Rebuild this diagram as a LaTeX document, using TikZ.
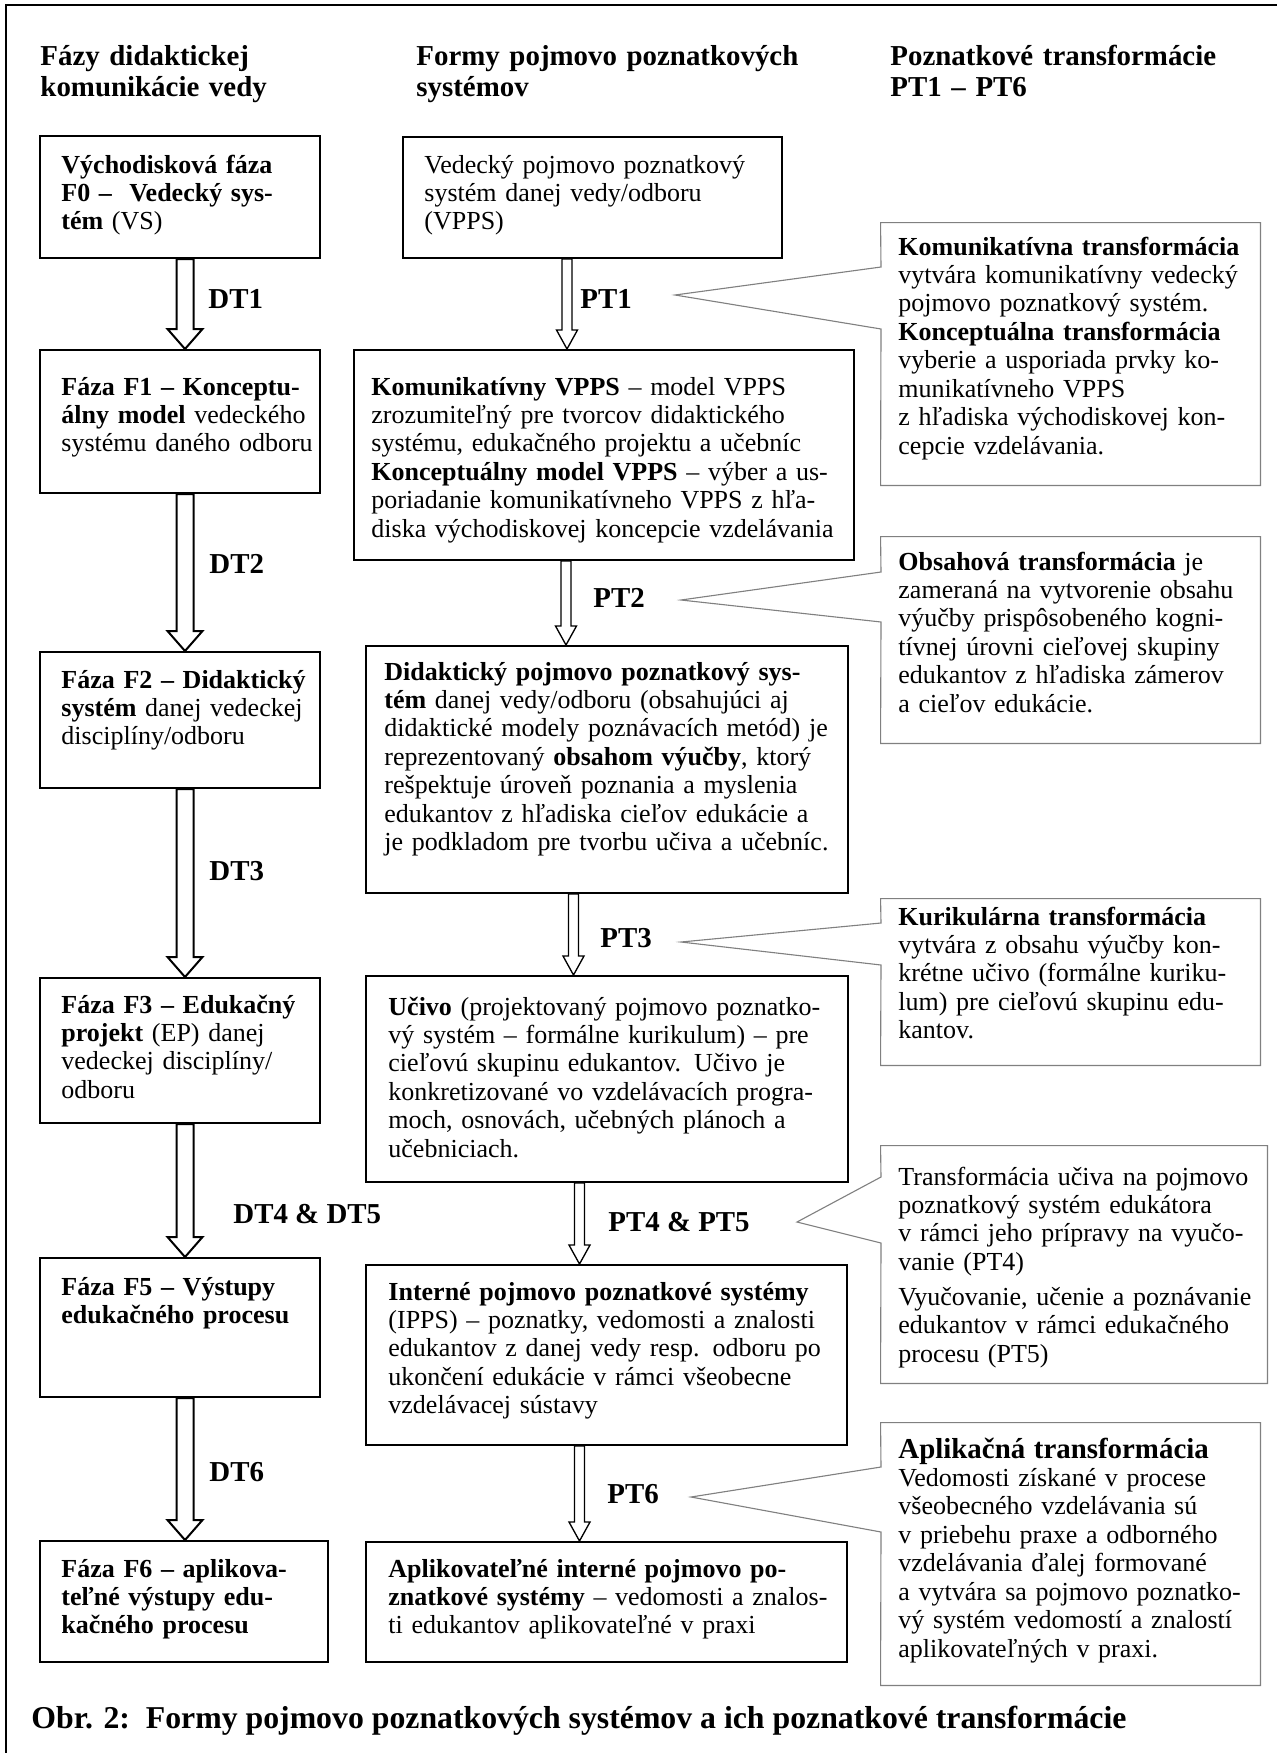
\documentclass[tikz,border=0pt]{standalone}
\usepackage{fontspec}
\setmainfont{Liberation Serif}
\usetikzlibrary{calc,fit}

\definecolor{calloutgray}{gray}{0.5}

% hollow block arrow: style, x, from node, to node, half shaft, half head, head length
\newcommand\blockarrow[7]{%
  \coordinate (bt) at (#2,0);
  \coordinate (bs) at (bt |- #3.south);
  \coordinate (be) at (bt |- #4.north);
  \draw[#1] ($(bs)+(-#5,0)$) -- ($(be)+(-#5,-#7)$) -- ($(be)+(-#6,-#7)$) -- (be)
    -- ($(be)+(#6,-#7)$) -- ($(be)+(#5,-#7)$) -- ($(bs)+(#5,0)$) -- cycle;
}

\tikzset{
  framebox/.style={draw, line width=0.9pt, inner sep=0pt},
  hidden/.style={inner sep=0pt},
  txt/.style={anchor=base west, inner sep=0pt, text width=300pt, align=left,
    font=\fontsize{11.7}{12.8}\selectfont},
  colhead/.style={anchor=base west, inner sep=0pt, text width=300pt, align=left,
    font=\bfseries\fontsize{13}{14}\selectfont},
  lbl/.style={anchor=base west, inner sep=0pt, font=\bfseries\fontsize{13}{14}\selectfont},
  callout/.style={draw=calloutgray, line width=0.5pt, fill=white},
  darrow/.style={draw, line width=0.9pt, fill=white},
  parrow/.style={draw, line width=0.6pt, fill=white},
}

\begin{document}
\begin{tikzpicture}[x=0.45pt, y=-0.45pt]
\useasboundingbox (0,0) rectangle (1277,1753);

% outer frame
\draw[line width=0.9pt] (5.5,1800) -- (5.5,4.5) -- (1300,4.5);

% column headings
\node[colhead] (h1) at (40,65) {Fázy didaktickej\\komunikácie vedy};
\node[colhead] (h2) at (416,65) {Formy pojmovo poznatkových\\systémov};
\node[colhead] (h3) at (890,65) {Poznatkové transformácie\\PT1 – PT6};

% phases of didactic communication
\node[framebox, fit={(40,136) (320,258)}] (f0) {};
\node[framebox, fit={(40,350) (320,493)}] (f1) {};
\node[framebox, fit={(40,652) (320,788)}] (f2) {};
\node[framebox, fit={(40,978) (320,1123)}] (f3) {};
\node[framebox, fit={(40,1258) (320,1397)}] (f5) {};
\node[framebox, fit={(40,1541) (328,1662)}] (f6) {};

\node[txt] (f0t) at (61,173) {\textbf{Východisková fáza}\\\textbf{F0 –\ \ Vedecký sys-}\\\textbf{tém} (VS)};
\node[txt] (f1t) at (61,395) {\textbf{Fáza F1 – Konceptu-}\\\textbf{álny model} vedeckého\\systému daného odboru};
\node[txt] (f2t) at (61,688) {\textbf{Fáza F2 – Didaktický}\\\textbf{systém} danej vedeckej\\disciplíny/odboru};
\node[txt] (f3t) at (61,1013) {\textbf{Fáza F3 – Edukačný}\\\textbf{projekt} (EP) danej\\vedeckej disciplíny/\\odboru};
\node[txt] (f5t) at (61,1295) {\textbf{Fáza F5 – Výstupy}\\\textbf{edukačného procesu}};
\node[txt] (f6t) at (61,1577) {\textbf{Fáza F6 – aplikova-}\\\textbf{teľné výstupy edu-}\\\textbf{kačného procesu}};

% forms of concept-knowledge systems
\node[framebox, fit={(403,137) (782,258)}] (m0) {};
\node[framebox, fit={(354,350) (854,560)}] (m1) {};
\node[framebox, fit={(366,646) (848,893)}] (m2) {};
\node[framebox, fit={(366,976) (848,1182)}] (m3) {};
\node[framebox, fit={(366,1265) (847,1445)}] (m4) {};
\node[framebox, fit={(366,1542) (847,1662)}] (m6) {};

\node[txt] (m0t) at (424,173) {Vedecký pojmovo poznatkový\\systém danej vedy/odboru\\(VPPS)};
\node[txt] (m1t) at (371,395) {\textbf{Komunikatívny VPPS} – model VPPS\\zrozumiteľný pre tvorcov didaktického\\systému, edukačného projektu a učebníc\\\textbf{Konceptuálny model VPPS} – výber a us-\\poriadanie komunikatívneho VPPS z hľa-\\diska východiskovej koncepcie vzdelávania};
\node[txt] (m2t) at (384,680) {\textbf{Didaktický pojmovo poznatkový sys-}\\\textbf{tém} danej vedy/odboru (obsahujúci aj\\didaktické modely poznávacích metód) je\\reprezentovaný \textbf{obsahom výučby}, ktorý\\rešpektuje úroveň poznania a myslenia\\edukantov z hľadiska cieľov edukácie a\\je podkladom pre tvorbu učiva a učebníc.};
\node[txt] (m3t) at (388,1015) {\textbf{Učivo} (projektovaný pojmovo poznatko-\\vý systém – formálne kurikulum) – pre\\cieľovú skupinu edukantov. Učivo je\\konkretizované vo vzdelávacích progra-\\moch, osnovách, učebných plánoch a\\učebniciach.};
\node[txt] (m4t) at (388,1300) {\textbf{Interné pojmovo poznatkové systémy}\\(IPPS) – poznatky, vedomosti a znalosti\\edukantov z danej vedy resp. odboru po\\ukončení edukácie v rámci všeobecne\\vzdelávacej sústavy};
\node[txt] (m6t) at (388,1577) {\textbf{Aplikovateľné interné pojmovo po-}\\\textbf{znatkové systémy} – vedomosti a znalos-\\ti edukantov aplikovateľné v praxi};

% didactic transformations
\blockarrow{darrow}{185}{f0}{f1}{8.5}{17.5}{20}
\blockarrow{darrow}{185}{f1}{f2}{8.5}{17.5}{20}
\blockarrow{darrow}{185}{f2}{f3}{8.5}{17.5}{20}
\blockarrow{darrow}{185}{f3}{f5}{8.5}{17.5}{20}
\blockarrow{darrow}{185}{f5}{f6}{8.5}{17.5}{20}

\node[lbl] (dt1) at (208,308) {DT1};
\node[lbl] (dt2) at (209,573) {DT2};
\node[lbl] (dt3) at (209,880) {DT3};
\node[lbl] (dt45) at (233,1223) {DT4 \& DT5};
\node[lbl] (dt6) at (209,1481) {DT6};

% knowledge transformations
\blockarrow{parrow}{567}{m0}{m1}{5}{10.5}{19}
\blockarrow{parrow}{566}{m1}{m2}{5}{10.5}{19}
\blockarrow{parrow}{573.5}{m2}{m3}{5}{10.5}{19}
\blockarrow{parrow}{579.5}{m3}{m4}{5}{10.5}{19}
\blockarrow{parrow}{579.5}{m4}{m6}{5}{10.5}{19}

\node[lbl] (pt1) at (580,308) {PT1};
\node[lbl] (pt2) at (593,607) {PT2};
\node[lbl] (pt3) at (600,947) {PT3};
\node[lbl] (pt45) at (608,1231) {PT4 \& PT5};
\node[lbl] (pt6) at (607,1503) {PT6};

% callouts describing the transformations
\coordinate (tipA) at (675,295);
\coordinate (tipB) at (681,600);
\coordinate (tipC) at (681,942);
\coordinate (tipD) at (797,1222);
\coordinate (tipE) at (691,1497);

\node[hidden, fit={(881,223) (1260,485)}] (cA) {};
\node[hidden, fit={(881,537) (1260,743)}] (cB) {};
\node[hidden, fit={(881,899) (1260,1065)}] (cC) {};
\node[hidden, fit={(881,1146) (1267,1383)}] (cD) {};
\node[hidden, fit={(881,1423) (1260,1685)}] (cE) {};

\draw[callout] (cA.north west) -- (cA.north east) -- (cA.south east) -- (cA.south west) -- (881,329) -- (tipA) -- (881,267) -- cycle;
\draw[callout] (cB.north west) -- (cB.north east) -- (cB.south east) -- (cB.south west) -- (881,622) -- (tipB) -- (881,572) -- cycle;
\draw[callout] (cC.north west) -- (cC.north east) -- (cC.south east) -- (cC.south west) -- (881,965) -- (tipC) -- (881,923) -- cycle;
\draw[callout] (cD.north west) -- (cD.north east) -- (cD.south east) -- (cD.south west) -- (881,1243) -- (tipD) -- (881,1177) -- cycle;
\draw[callout] (cE.north west) -- (cE.north east) -- (cE.south east) -- (cE.south west) -- (881,1532) -- (tipE) -- (881,1467) -- cycle;

\node[txt] (cAt) at (898,255) {\textbf{Komunikatívna transformácia}\\vytvára komunikatívny vedecký\\pojmovo poznatkový systém.\\\textbf{Konceptuálna transformácia}\\vyberie a usporiada prvky ko-\\munikatívneho VPPS\\z hľadiska východiskovej kon-\\cepcie vzdelávania.};
\node[txt] (cBt) at (898,570) {\textbf{Obsahová transformácia} je\\zameraná na vytvorenie obsahu\\výučby prispôsobeného kogni-\\tívnej úrovni cieľovej skupiny\\edukantov z hľadiska zámerov\\a cieľov edukácie.};
\node[txt] (cCt) at (898,925) {\textbf{Kurikulárna transformácia}\\vytvára z obsahu výučby kon-\\krétne učivo (formálne kuriku-\\lum) pre cieľovú skupinu edu-\\kantov.};
\node[txt] (cDt) at (898,1185) {Transformácia učiva na pojmovo\\poznatkový systém edukátora\\v rámci jeho prípravy na vyučo-\\vanie (PT4)\\[3pt]Vyučovanie, učenie a poznávanie\\edukantov v rámci edukačného\\procesu (PT5)};
\node[txt] (cEt) at (898,1458) {{\bfseries\fontsize{13}{13.2}\selectfont Aplikačná transformácia}\\Vedomosti získané v procese\\všeobecného vzdelávania sú\\v priebehu praxe a odborného\\vzdelávania ďalej formované\\a vytvára sa pojmovo poznatko-\\vý systém vedomostí a znalostí\\aplikovateľných v praxi.};

% caption
\node[anchor=base west, inner sep=0pt, font=\bfseries\fontsize{14.3}{15}\selectfont] (cap) at (31,1728)
  {Obr. 2:\ \ Formy pojmovo poznatkových systémov a ich poznatkové transformácie};
\end{tikzpicture}
\end{document}
